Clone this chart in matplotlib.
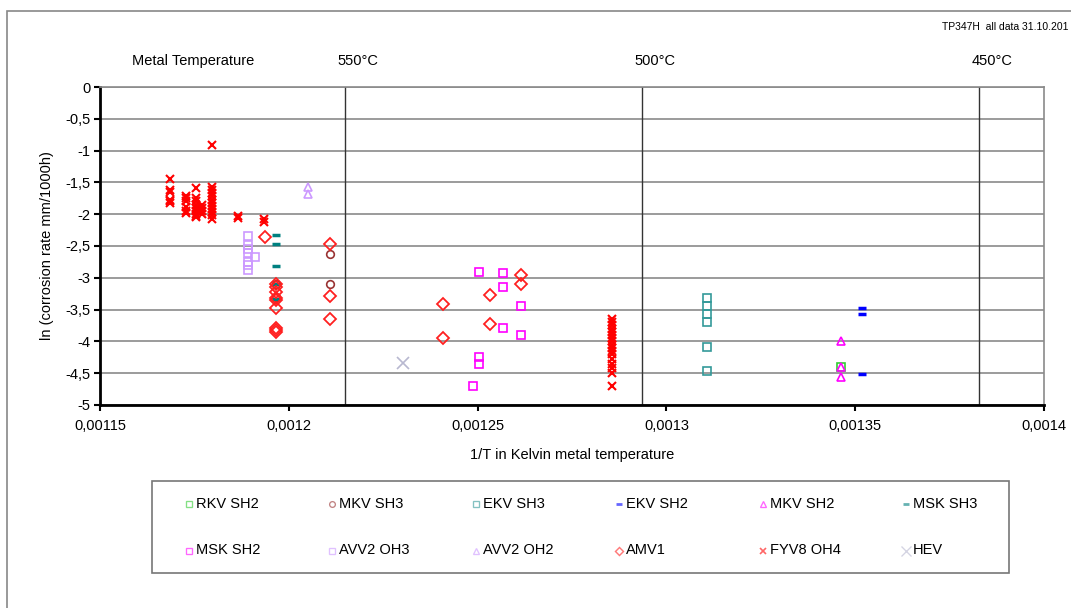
import matplotlib; matplotlib.use("Agg")
import matplotlib.pyplot as plt
from matplotlib.patches import Rectangle
from matplotlib.lines import Line2D
from matplotlib.transforms import blended_transform_factory
import numpy as np

plt.rcParams.update({"font.family": ["Liberation Sans", "DejaVu Sans"], "font.size": 10})

# 1/T (K) and ln(corrosion rate mm/1000h) per test series
rkv_sh2_x = [0.0013462]; rkv_sh2_y = [-4.41]
mkv_sh3_x = [0.0011965, 0.0011965, 0.0012109, 0.0012109]
mkv_sh3_y = [-3.09, -3.30, -2.62, -3.09]
ekv_sh3_x = [0.0013108]*6
ekv_sh3_y = [-3.31, -3.44, -3.57, -3.70, -4.09, -4.46]
ekv_sh2_x = [0.0013517]*3
ekv_sh2_y = [-3.48, -3.57, -4.52]
mkv_sh2_x = [0.0013462]*3
mkv_sh2_y = [-4.00, -4.40, -4.56]
msk_sh3_x = [0.0011965]*5
msk_sh3_y = [-2.32, -2.47, -2.81, -3.09, -3.33]
msk_sh2_x = [0.0012504, 0.0012504, 0.0012504, 0.0012487, 0.0012566, 0.0012566, 0.0012566, 0.0012614, 0.0012614]
msk_sh2_y = [-2.91, -4.24, -4.36, -4.70, -2.93, -3.14, -3.79, -3.44, -3.90]
avv2_oh3_x = [0.0011893]*7 + [0.001191]
avv2_oh3_y = [-2.34, -2.48, -2.54, -2.61, -2.75, -2.80, -2.88, -2.67]
avv2_oh2_x = [0.0012052, 0.0012052]
avv2_oh2_y = [-1.57, -1.68]
amv1_x = [0.0011937, 0.0011965, 0.0011965, 0.0011965, 0.0011965, 0.0011965, 0.0011965, 0.0011965, 0.0011965, 0.0011965,
          0.0012109, 0.0012109, 0.0012109, 0.0012409, 0.0012409, 0.0012533, 0.0012533, 0.0012614, 0.0012614]
amv1_y = [-2.36, -3.09, -3.14, -3.22, -3.32, -3.35, -3.48, -3.79, -3.82, -3.85,
          -2.47, -3.28, -3.65, -3.41, -3.94, -3.27, -3.73, -2.96, -3.10]
fyv8_oh4_x = ([0.0011685]*6 + [0.0011727]*6 + [0.0011754]*9 + [0.0011769]*4 + [0.0011796]*12
              + [0.0011865]*2 + [0.0011935]*2 + [0.0012857]*17)
fyv8_oh4_y = ([-1.45, -1.62, -1.65, -1.78, -1.80, -1.82]
              + [-1.72, -1.75, -1.80, -1.88, -1.95, -1.98]
              + [-1.59, -1.75, -1.80, -1.85, -1.90, -1.95, -2.00, -2.03, -2.05]
              + [-1.85, -1.90, -1.95, -2.00]
              + [-0.91, -1.57, -1.62, -1.67, -1.72, -1.77, -1.82, -1.87, -1.92, -1.97, -2.02, -2.07]
              + [-2.03, -2.06]
              + [-2.07, -2.12]
              + [-3.65, -3.70, -3.75, -3.80, -3.85, -3.90, -3.95, -4.00, -4.05, -4.10, -4.15, -4.20,
                 -4.28, -4.35, -4.42, -4.50, -4.70])
hev_x = [0.0012303]; hev_y = [-4.34]

temps_c = [550, 500, 450]
xticks = [0.00115, 0.0012, 0.00125, 0.0013, 0.00135, 0.0014]
xticklabels = ["0,00115", "0,0012", "0,00125", "0,0013", "0,00135", "0,0014"]
yticks = np.arange(0, -5.01, -0.5)
yticklabels = ["0", "-0,5", "-1", "-1,5", "-2", "-2,5", "-3", "-3,5", "-4", "-4,5", "-5"]

series = [
    ("RKV SH2", rkv_sh2_x, rkv_sh2_y, dict(marker="s", mfc="none", mec="#33cc33", ms=5.5, mew=1.2)),
    ("MKV SH3", mkv_sh3_x, mkv_sh3_y, dict(marker="o", mfc="none", mec="#993333", ms=5.5, mew=1.2)),
    ("EKV SH3", ekv_sh3_x, ekv_sh3_y, dict(marker="s", mfc="none", mec="#339999", ms=5.5, mew=1.2)),
    ("EKV SH2", ekv_sh2_x, ekv_sh2_y, dict(marker="_", mec="#0000ff", ms=5.5, mew=2.5)),
    ("MKV SH2", mkv_sh2_x, mkv_sh2_y, dict(marker="^", mfc="none", mec="#ff00ff", ms=5.5, mew=1.2)),
    ("MSK SH3", msk_sh3_x, msk_sh3_y, dict(marker="_", mec="#008080", ms=5.5, mew=2.5)),
    ("MSK SH2", msk_sh2_x, msk_sh2_y, dict(marker="s", mfc="none", mec="#ff00ff", ms=5.5, mew=1.2)),
    ("AVV2 OH3", avv2_oh3_x, avv2_oh3_y, dict(marker="s", mfc="none", mec="#cc99ff", ms=5.5, mew=1.2)),
    ("AVV2 OH2", avv2_oh2_x, avv2_oh2_y, dict(marker="^", mfc="none", mec="#cc99ff", ms=5.5, mew=1.2)),
    ("AMV1", amv1_x, amv1_y, dict(marker="D", mfc="none", mec="#ff2020", ms=6, mew=1.3)),
    ("FYV8 OH4", fyv8_oh4_x, fyv8_oh4_y, dict(marker="x", mec="#ff0000", ms=5.5, mew=1.5)),
    ("HEV", hev_x, hev_y, dict(marker="x", mec="#b8b8d0", ms=9, mew=1.2)),
]

W, H = 1071, 608
fig = plt.figure(figsize=(W / 100, H / 100), dpi=100)
ax = fig.add_axes([0.0934, 0.3339, 0.8814, 0.5230])

ax.set_xlim(0.00115, 0.0014)
ax.set_ylim(-5, 0)
for y in yticks:
    ax.axhline(y, color="#8a8a8a", lw=1.2, zorder=1)
trans = blended_transform_factory(ax.transData, fig.transFigure)
for t in temps_c:
    xv = 1.0 / (t + 273.15)
    ax.axvline(xv, color="#333333", lw=1, zorder=1)
    ax.text(xv + 0.0000035, 0.90, f"{t}°C", transform=trans, ha="center", va="center", fontsize=10.5)
fig.text(0.180, 0.90, "Metal Temperature", ha="center", va="center", fontsize=10.5)

for name, xs, ys, st in series:
    ax.plot(xs, ys, ls="none", label=name, zorder=3, **st)

ax.set_xticks(xticks); ax.set_xticklabels(xticklabels, fontsize=10.5)
ax.set_yticks(yticks); ax.set_yticklabels(yticklabels, fontsize=10.5)
ax.tick_params(direction="out", length=4, width=1.5, color="black", pad=3)
ax.tick_params(axis="x", pad=6)
for s in ["left", "bottom"]:
    ax.spines[s].set_linewidth(2); ax.spines[s].set_color("black")
for s in ["top", "right"]:
    ax.spines[s].set_linewidth(1.2); ax.spines[s].set_color("#8a8a8a")
ax.set_xlabel("1/T in Kelvin metal temperature", fontsize=10.5, labelpad=11)
ax.set_ylabel("ln (corrosion rate mm/1000h)", fontsize=10.5, labelpad=8)

# legend box: 6 entries per row, fixed column pitch (pixel layout)
fig.patches.append(Rectangle((152 / W, 1 - 573 / H), (1009 - 152) / W, (573 - 481) / H,
                             transform=fig.transFigure, fill=False, edgecolor="#777777", lw=1.2))
for i, (name, _, _, st) in enumerate(series):
    r, c = divmod(i, 6)
    mx, my = 189 + c * 143.4, 504 + r * 46.5
    key = dict(st); key["ms"] = key["ms"] * 0.75; key["mew"] = key["mew"] * 0.8
    fig.add_artist(Line2D([mx / W], [1 - my / H], ls="none", alpha=0.6,
                          transform=fig.transFigure, **key))
    fig.text((mx + 7) / W, 1 - my / H, name, ha="left", va="center", fontsize=10.5)

fig.text(0.880, 0.956, "TP347H  all data 31.10.201", fontsize=7.5, ha="left", va="center")
fig.patches.append(Rectangle((7 / W, -0.1), 1.2, 0.982 + 0.1, transform=fig.transFigure,
                             fill=False, edgecolor="#888888", lw=1.2))

fig.savefig("out.png", dpi=100)
